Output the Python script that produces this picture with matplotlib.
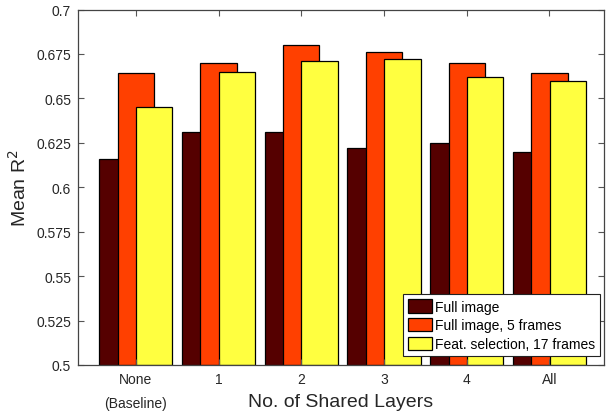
import numpy as np
import matplotlib
matplotlib.use("Agg")
import matplotlib.pyplot as plt

plt.rcParams['font.family'] = ['Liberation Sans', 'DejaVu Sans']

groups = ['None\n(Baseline)', '1', '2', '3', '4', 'All']
series = ['Full image', 'Full image, 5 frames', 'Feat. selection, 17 frames']
full_img = [0.616, 0.631, 0.631, 0.622, 0.625, 0.620]
full_5fr = [0.664, 0.670, 0.680, 0.676, 0.670, 0.664]
feat_17fr = [0.645, 0.665, 0.671, 0.672, 0.662, 0.660]
colors = ['#550000', '#ff4000', '#ffff40']
yticks = [0.5, 0.525, 0.55, 0.575, 0.6, 0.625, 0.65, 0.675, 0.7]

fig = plt.figure(figsize=(6.07, 4.14), dpi=100)
ax = fig.add_axes([78 / 607, 1 - 366 / 414, 526 / 607, 355.5 / 414])

x = np.arange(1, len(groups) + 1)
offs = [-0.222, 0.0, 0.222]
for vals, off, c, lab in zip([full_img, full_5fr, feat_17fr], offs, colors, series):
    ax.bar(x + off, np.array(vals) - 0.5, bottom=0.5, width=0.44, color=c,
           edgecolor='black', linewidth=0.9, label=lab)

ax.set_xlim(0.3, 6.66)
ax.set_ylim(0.5, 0.7)
ax.set_xticks(x)
ax.set_xticklabels(groups, fontsize=10, linespacing=1.9, color='#262626')
ax.set_yticks(yticks)
ax.set_yticklabels(['%g' % v for v in yticks], fontsize=10, color='#262626')
ax.tick_params(direction='in', top=True, right=True, length=4, color='#555555', pad=5)
for s in ax.spines.values():
    s.set_color('#444444')
    s.set_linewidth(0.9)

# label sits level with the "(Baseline)" line, as in the original
ax.set_xlabel('No. of Shared Layers', fontsize=14, color='#262626')
ax.xaxis.set_label_coords(0.5, -0.08)
ax.set_ylabel('Mean R$^2$', fontsize=14, color='#262626')
ax.yaxis.set_label_coords(-0.092, 0.5)

leg = ax.legend(loc='lower right', bbox_to_anchor=(0.992, 0.025), fontsize=10,
                fancybox=False, framealpha=1, edgecolor='#222222',
                handlelength=1.75, handleheight=1.1, handletextpad=0.2,
                borderpad=0.35, labelspacing=0.32, borderaxespad=0)
leg.get_frame().set_linewidth(0.8)

fig.savefig('out.png', dpi=100)
